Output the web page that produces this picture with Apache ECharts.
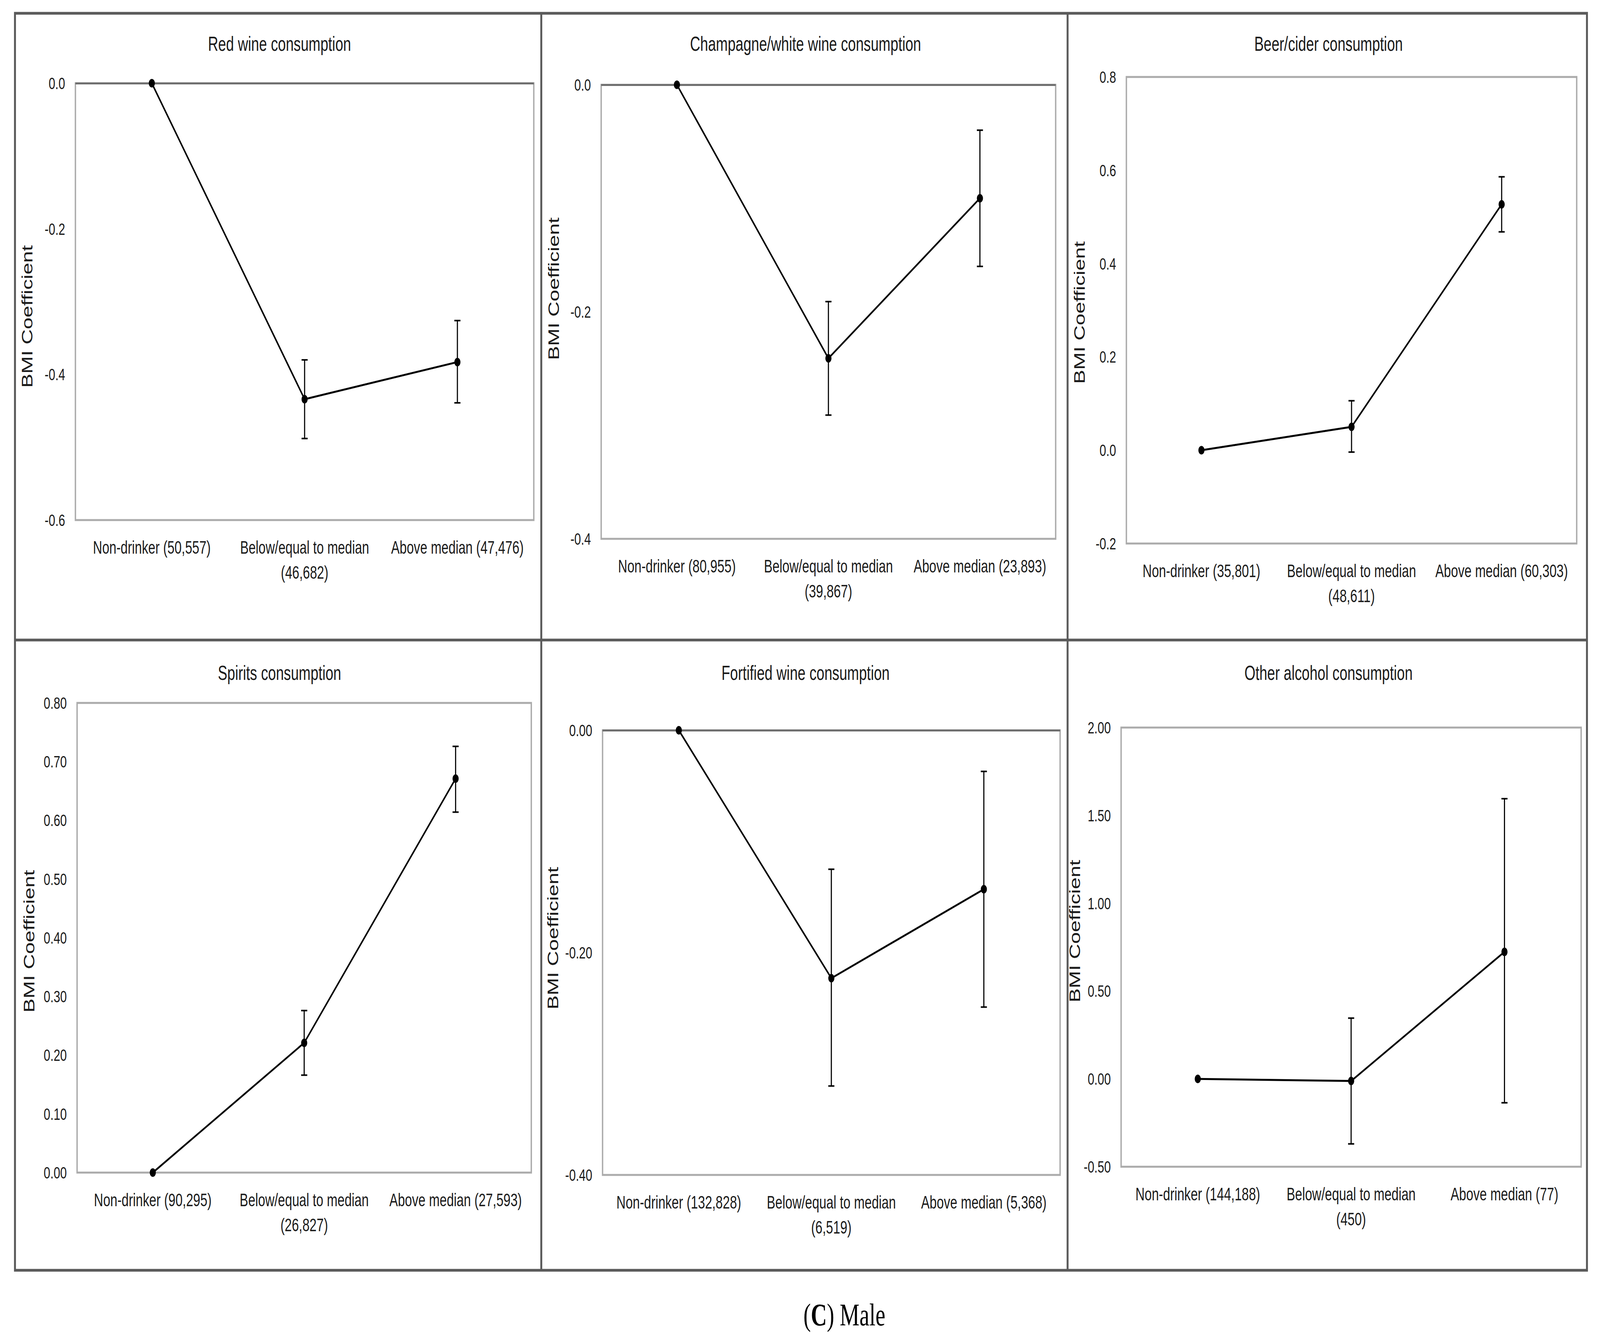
<!DOCTYPE html>
<html>
<head>
<meta charset="utf-8">
<script src="https://cdn.jsdelivr.net/npm/echarts@6/dist/echarts.min.js"></script>
<style>
html,body{margin:0;padding:0;background:#fff;overflow:hidden;}
#chart{width:5770px;height:3432px;transform-origin:0 0;position:absolute;left:0;top:0;}
</style>
</head>
<body>
<div id="chart"></div>
<script>
// ---------------- DATA ----------------
const panelTitles = [
  "Red wine consumption",
  "Champagne/white wine consumption",
  "Beer/cider consumption",
  "Spirits consumption",
  "Fortified wine consumption",
  "Other alcohol consumption"
];

const catsRed = ["Non-drinker (50,557)", "Below/equal to median (46,682)", "Above median (47,476)"];
const catsChamp = ["Non-drinker (80,955)", "Below/equal to median (39,867)", "Above median (23,893)"];
const catsBeer = ["Non-drinker (35,801)", "Below/equal to median (48,611)", "Above median (60,303)"];
const catsSpirits = ["Non-drinker (90,295)", "Below/equal to median (26,827)", "Above median (27,593)"];
const catsFort = ["Non-drinker (132,828)", "Below/equal to median (6,519)", "Above median (5,368)"];
const catsOther = ["Non-drinker (144,188)", "Below/equal to median (450)", "Above median (77)"];

const coefRed = [0, -0.434, -0.383];
const lowRed = [null, -0.488, -0.439];
const highRed = [null, -0.380, -0.326];

const coefChamp = [0, -0.241, -0.100];
const lowChamp = [null, -0.291, -0.160];
const highChamp = [null, -0.191, -0.040];

const coefBeer = [0, 0.050, 0.527];
const lowBeer = [null, -0.004, 0.468];
const highBeer = [null, 0.106, 0.586];

const coefSpirits = [0, 0.221, 0.671];
const lowSpirits = [null, 0.166, 0.614];
const highSpirits = [null, 0.276, 0.726];

const coefFort = [0, -0.223, -0.143];
const lowFort = [null, -0.320, -0.249];
const highFort = [null, -0.125, -0.037];

const coefOther = [0, -0.012, 0.723];
const lowOther = [null, -0.370, -0.136];
const highOther = [null, 0.346, 1.595];

// y-axis tick settings: [min, max, interval, decimals]
const yTicksRed = [-0.6, 0, 0.2, 1];
const yTicksChamp = [-0.4, 0, 0.2, 1];
const yTicksBeer = [-0.2, 0.8, 0.2, 1];
const yTicksSpirits = [0, 0.8, 0.1, 2];
const yTicksFort = [-0.4, 0, 0.2, 2];
const yTicksOther = [-0.5, 2.0, 0.5, 2];

const yAxisName = "BMI Coefficient";
const captionLetter = "C";
const captionText = "Male";

// ---------------- PAGE SIZING ----------------
// Laid out in the reference's 5770x3432 pixel space; the container is
// scaled to whatever viewport the browser actually provides.
const REF_W = 5770, REF_H = 3432;
const el = document.getElementById("chart");
el.style.transform = "scale(" + (window.innerWidth / REF_W) + "," + (window.innerHeight / REF_H) + ")";

// ---------------- LAYOUT ----------------
// nameShift: move the rotated axis title down (+) or up (-) along the axis
const panels = [
  {cats: catsRed, coef: coefRed, lo: lowRed, hi: highRed, ticks: yTicksRed,
   grid: [272, 213, 1653, 1118], titleX: 1003, titleY: 82, nameGap: 146, nameShift: 38},
  {cats: catsChamp, coef: coefChamp, lo: lowChamp, hi: highChamp, ticks: yTicksChamp,
   grid: [2168, 217, 1639, 1162], titleX: 2900, titleY: 82, nameGap: 143, nameShift: -59},
  {cats: catsBeer, coef: coefBeer, lo: lowBeer, hi: highBeer, ticks: yTicksBeer,
   grid: [4062, 197, 1624, 1194], titleX: 4786, titleY: 82, nameGap: 141, nameShift: 6},
  {cats: catsSpirits, coef: coefSpirits, lo: lowSpirits, hi: highSpirits, ticks: yTicksSpirits,
   grid: [278, 1799, 1638, 1202], titleX: 1003, titleY: 1692, nameGap: 146, nameShift: 9},
  {cats: catsFort, coef: coefFort, lo: lowFort, hi: highFort, ticks: yTicksFort,
   grid: [2173, 1869, 1650, 1138], titleX: 2900, titleY: 1692, nameGap: 152, nameShift: -37},
  {cats: catsOther, coef: coefOther, lo: lowOther, hi: highOther, ticks: yTicksOther,
   grid: [4043, 1862, 1659, 1124], titleX: 4786, titleY: 1692, nameGap: 119, nameShift: -41}
];

const SANS = "'Liberation Sans', Arial, Helvetica, sans-serif";
const SERIF = "'Liberation Serif', 'Times New Roman', serif";
const TXT = "#1a1a1a";

const grids = [], xAxes = [], yAxes = [], series = [], titles = [];

panels.forEach((p, i) => {
  const g = p.grid;
  grids.push({show: true, borderColor: "#ababab", borderWidth: 5, backgroundColor: "#fff",
    left: g[0], top: g[1], width: g[2], height: g[3]});
  titles.push({
    text: panelTitles[i], left: p.titleX, top: p.titleY, textAlign: "center",
    textStyle: {fontFamily: SANS, fontSize: 51, fontWeight: "normal", color: TXT}
  });
  xAxes.push({
    type: "category", gridIndex: i, data: p.cats, boundaryGap: true,
    axisLine: {show: false}, axisTick: {show: false}, splitLine: {show: false},
    axisLabel: {
      interval: 0, margin: 38, fontFamily: SANS, fontSize: 46, lineHeight: 64, color: TXT,
      formatter: v => v.indexOf("Below") === 0 ? v.replace(" (", "\n(") : v
    }
  });
  const [mn, mx, iv, dec] = p.ticks;
  const sh = p.nameShift;
  yAxes.push({
    type: "value", gridIndex: i, min: mn, max: mx, interval: iv,
    axisLine: {show: false}, axisTick: {show: false}, splitLine: {show: false},
    axisLabel: {margin: 37, fontFamily: SANS, fontSize: 43, color: TXT, formatter: v => v.toFixed(dec)},
    name: yAxisName, nameLocation: "middle", nameGap: p.nameGap,
    nameTextStyle: {fontFamily: SANS, fontSize: 54, color: TXT,
      padding: sh >= 0 ? [0, 2 * sh, 0, 0] : [0, 0, 0, -2 * sh]}
  });
  const ebData = [];
  p.coef.forEach((c, k) => { if (p.lo[k] !== null) ebData.push([k, p.lo[k], p.hi[k]]); });
  series.push({
    type: "custom", xAxisIndex: i, yAxisIndex: i, z: 3,
    encode: {x: 0, y: [1, 2]},
    data: ebData,
    renderItem: function (params, api) {
      const x = api.value(0);
      const a = api.coord([x, api.value(1)]);
      const b = api.coord([x, api.value(2)]);
      const w = 11;
      const st = {stroke: "#000", lineWidth: 4};
      return {type: "group", children: [
        {type: "line", shape: {x1: a[0], y1: a[1], x2: b[0], y2: b[1]}, style: st},
        {type: "line", shape: {x1: a[0] - w, y1: a[1], x2: a[0] + w, y2: a[1]}, style: st},
        {type: "line", shape: {x1: b[0] - w, y1: b[1], x2: b[0] + w, y2: b[1]}, style: st}
      ]};
    }
  });
  const lineSeries = {
    type: "line", xAxisIndex: i, yAxisIndex: i, z: 4, data: p.coef,
    symbol: "circle", symbolSize: 22, showSymbol: true,
    lineStyle: {color: "#000", width: 5}, itemStyle: {color: "#000"},
    emphasis: {disabled: true}
  };
  if (mx === 0) {
    // zero line lies on the top edge of the plot in these panels
    lineSeries.markLine = {
      silent: true, symbol: "none", label: {show: false}, z: 2,
      lineStyle: {color: "#6f6f6f", width: 5, type: "solid"},
      data: [{yAxis: 0}]
    };
  }
  series.push(lineSeries);
});

titles.push({
  text: "{n|(}{b|" + captionLetter + "}{n|) " + captionText + "}",
  left: 3040, top: 3320, textAlign: "center",
  textStyle: {
    fontWeight: "normal",
    rich: {
      n: {fontFamily: SERIF, fontSize: 80, fontWeight: "normal", color: "#000"},
      b: {fontFamily: SERIF, fontSize: 80, fontWeight: "bold", color: "#000"}
    }
  }
});

const frame = "#5a5a5a";
const fw = 7;
const option = {
  backgroundColor: "#fff",
  animation: false,
  title: titles,
  grid: grids,
  xAxis: xAxes,
  yAxis: yAxes,
  series: series,
  graphic: [
    {type: "rect", z: -1, shape: {x: 54, y: 34, width: 5669, height: 3217}, style: {fill: null, stroke: frame, lineWidth: fw}},
    {type: "line", z: -1, shape: {x1: 1952, y1: 34, x2: 1952, y2: 3251}, style: {stroke: frame, lineWidth: fw}},
    {type: "line", z: -1, shape: {x1: 3850, y1: 34, x2: 3850, y2: 3251}, style: {stroke: frame, lineWidth: fw}},
    {type: "line", z: -1, shape: {x1: 54, y1: 1638, x2: 5723, y2: 1638}, style: {stroke: frame, lineWidth: fw}}
  ]
};

const chart = echarts.init(el, null, {renderer: "svg", width: REF_W, height: REF_H});
chart.setOption(option);
</script>
</body>
</html>
